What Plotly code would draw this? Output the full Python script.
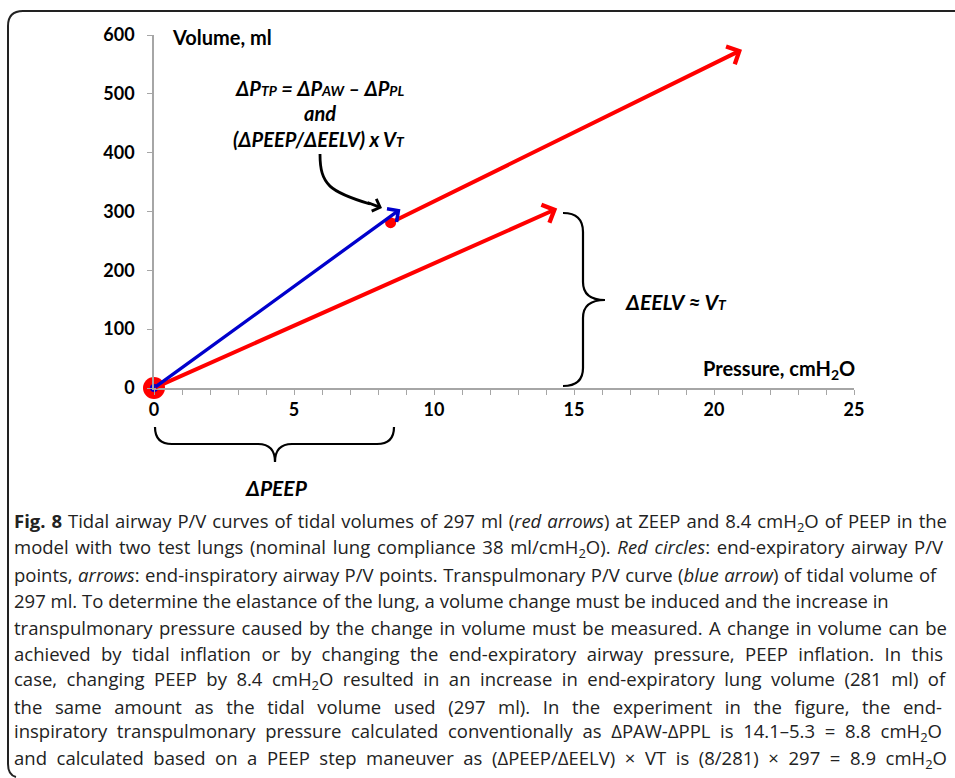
import json
import plotly.graph_objects as go

W, H = 955, 778

# ---- data ----
x_ticks = [0, 5, 10, 15, 20, 25]
y_ticks = [0, 100, 200, 300, 400, 500, 600]

# tidal airway P/V at ZEEP (red arrow 1)
zeep_pressure = [0.0, 14.4]
zeep_volume = [0, 305]
# tidal airway P/V at PEEP 8.4 (red arrow 2)
peep_pressure = [8.45, 21.0]
peep_volume = [281, 575]
# transpulmonary P/V (blue arrow)
tp_pressure = [0.0, 8.8]
tp_volume = [0, 304]
# end-expiratory airway P/V points (red circles)
ee_pressure = [0.0, 8.45]
ee_volume = [0, 281]

caption_lines = [
    "<b>Fig. 8</b> Tidal airway P/V curves of tidal volumes of 297 ml (<i>red arrows</i>) at ZEEP and 8.4 cmH<sub>2</sub>O of PEEP in the",
    "model with two test lungs (nominal lung compliance 38 ml/cmH<sub>2</sub>O). <i>Red circles</i>: end-expiratory airway P/V",
    "points, <i>arrows</i>: end-inspiratory airway P/V points. Transpulmonary P/V curve (<i>blue arrow</i>) of tidal volume of",
    "297 ml. To determine the elastance of the lung, a volume change must be induced and the increase in",
    "transpulmonary pressure caused by the change in volume must be measured. A change in volume can be",
    "achieved by tidal inflation or by changing the end-expiratory airway pressure, PEEP inflation. In this",
    "case, changing PEEP by 8.4 cmH<sub>2</sub>O resulted in an increase in end-expiratory lung volume (281 ml) of",
    "the same amount as the tidal volume used (297 ml). In the experiment in the figure, the end-",
    "inspiratory transpulmonary pressure calculated conventionally as ΔPAW-ΔPPL is 14.1–5.3 = 8.8 cmH<sub>2</sub>O",
    "and calculated based on a PEEP step maneuver as (ΔPEEP/ΔEELV) × VT is (8/281) × 297 = 8.9 cmH<sub>2</sub>O",
]
# right edge (px) of each justified caption line (None = ragged)
caption_right = [945, 942, 936, None, 945, 941, 945, 940, 940, 945]


def P(xp, yp):
    return xp / W, 1 - yp / H


def path(cmds):
    out = []
    for c in cmds:
        if isinstance(c, str):
            out.append(c)
        else:
            x, y = P(*c)
            out.append(f"{x:.5f},{y:.5f}")
    return " ".join(out)


CHART_FONT = "Lato"
AX = "#a6a6a6"

fig = go.Figure()

# red circles (end-expiratory points)
fig.add_trace(go.Scatter(x=ee_pressure[:1], y=ee_volume[:1], mode="markers",
                         marker=dict(size=22, color="#ff0000"), cliponaxis=False,
                         hoverinfo="skip", showlegend=False))
fig.add_trace(go.Scatter(x=ee_pressure[1:], y=ee_volume[1:], mode="markers",
                         marker=dict(size=11, color="#ff0000"), cliponaxis=False,
                         hoverinfo="skip", showlegend=False))

annotations = []


def data_arrow(xs, ys, color, width):
    annotations.append(dict(x=xs[1], y=ys[1], ax=xs[0], ay=ys[0], xref="x", yref="y",
                            axref="x", ayref="y", text="", showarrow=True,
                            arrowhead=4, arrowsize=0.95, arrowwidth=width,
                            arrowcolor=color, standoff=0, startstandoff=0))


data_arrow(zeep_pressure, zeep_volume, "#ff0000", 4)
data_arrow(peep_pressure, peep_volume, "#ff0000", 4)
data_arrow(tp_pressure, tp_volume, "#0000cc", 3.3)

# blue dot at origin (on top)
fig.add_trace(go.Scatter(x=tp_pressure[:1], y=tp_volume[:1], mode="markers",
                         marker=dict(size=8, color="#0000cc"), cliponaxis=False,
                         hoverinfo="skip", showlegend=False))


# ---- text annotations ----
def text(xp, yp, s, size, xanchor="center", bold=True, italic=False, color="#000000", family=CHART_FONT):
    x, y = P(xp, yp)
    annotations.append(dict(x=x, y=y, xref="paper", yref="paper", text=s, showarrow=False,
                            xanchor=xanchor, yanchor="middle", align=xanchor if xanchor != "center" else "center",
                            font=dict(family=family, size=size, color=color,
                                      weight="bold" if bold else "normal",
                                      style="italic" if italic else "normal")))
    return len(annotations) - 1


sm = '<span style="font-size:14px">'
text(170, 37, "Volume, ml", 20, xanchor="left")
text(857, 369, "Pressure, cmH<sub>2</sub>O", 20, xanchor="right")
text(319, 88, f"ΔP{sm}TP</span> = ΔP{sm}AW</span> – ΔP{sm}PL</span>", 20, italic=True)
text(320, 113, "and", 20, italic=True)
text(319, 139, f"(ΔPEEP/ΔEELV) x V{sm}T</span>", 20, italic=True)
text(276, 487, "ΔPEEP", 21, italic=True)
text(623, 301, f"ΔEELV ≈ V{sm}T</span>", 21, xanchor="left", italic=True)

# caption
justify = {}
for i, line in enumerate(caption_lines):
    idx = text(12, 522 + i * 26.3, line, 18.5, xanchor="left", bold=False,
               color="#222222", family="Open Sans")
    if caption_right[i] is not None:
        justify[idx] = caption_right[i] - 12

# curved arrow pointer head
hx, hy = P(382, 208)
annotations.append(dict(x=hx, y=hy, xref="paper", yref="paper", ax=-16, ay=-6, text="",
                        showarrow=True, arrowhead=4, arrowsize=0.9, arrowwidth=2.8,
                        arrowcolor="#000000", standoff=0))

shapes = [
    # frame (kept inside the page)
    dict(type="path", xref="paper", yref="paper",
         path=path(["M", (16, 777), "Q", (8, 775), (8, 764), "L", (8, 26),
                    "Q", (8, 11), (23, 11), "L", (955, 11)]),
         line=dict(color="#222222", width=2)),
    # curved pointer
    dict(type="path", xref="paper", yref="paper",
         path=path(["M", (320, 154), "C", (320, 185), (330, 192), (370, 204)]),
         line=dict(color="#000000", width=2.8)),
    # horizontal brace (ΔPEEP)
    dict(type="path", xref="paper", yref="paper",
         path=path(["M", (155, 427), "Q", (155, 444), (172, 444), "L", (258, 444),
                    "Q", (275, 444), (275, 462), "Q", (275, 444), (292, 444), "L", (377, 444),
                    "Q", (394, 444), (394, 427)]),
         line=dict(color="#000000", width=2.2)),
    # vertical brace (ΔEELV)
    dict(type="path", xref="paper", yref="paper",
         path=path(["M", (563, 213), "Q", (583, 213), (583, 232), "L", (583, 282),
                    "Q", (583, 300), (605, 300), "Q", (583, 300), (583, 318), "L", (583, 368),
                    "Q", (583, 386), (563, 386)]),
         line=dict(color="#000000", width=2.2)),
]

x0, y0 = P(154, 388)
x1, y1 = P(854, 35)

fig.update_layout(
    width=W, height=H, margin=dict(l=0, r=0, t=0, b=0, autoexpand=False),
    paper_bgcolor="white", plot_bgcolor="white",
    showlegend=False,
    annotations=annotations, shapes=shapes,
    xaxis=dict(domain=[x0, x1], range=[0, 25], tickvals=x_ticks, automargin=False,
               showline=True, linecolor=AX, linewidth=1.5, showgrid=False, zeroline=False,
               ticks="outside", ticklen=5, tickcolor=AX, tickwidth=1.2,
               minor=dict(dtick=1, ticks="outside", ticklen=5, tickcolor=AX, tickwidth=1.2, showgrid=False),
               tickfont=dict(family=CHART_FONT, size=18, color="#000000", weight="bold"),
               fixedrange=True),
    yaxis=dict(domain=[y0, y1], range=[0, 600], tickvals=y_ticks, automargin=False,
               showline=True, linecolor=AX, linewidth=1.5, showgrid=False, zeroline=False,
               ticks="outside", ticklen=5, tickcolor=AX, tickwidth=1.2, ticklabelstandoff=9,
               tickfont=dict(family=CHART_FONT, size=18, color="#000000", weight="bold"),
               fixedrange=True),
)

post = """
document.documentElement.style.margin='0';document.documentElement.style.overflow='hidden';
document.body.style.margin='0';document.body.style.overflow='hidden';
(function(){
  var J = %s;
  function run(){
    try {
      document.querySelectorAll('g.annotation').forEach(function(g){
        var i = g.getAttribute('data-index');
        if (!(i in J)) return;
        var t = g.querySelector('text.annotation-text');
        if (!t) return;
        var w = t.getBBox().width;
        var n = (t.textContent.match(/ /g) || []).length;
        if (n > 0 && J[i] > w) t.style.wordSpacing = ((J[i] - w) / n) + 'px';
      });
    } catch (e) {}
  }
  if (document.fonts && document.fonts.ready) { document.fonts.ready.then(run); } else { run(); }
})();
""" % json.dumps({str(k): v for k, v in justify.items()})

fig.write_html("out.html", config={"displayModeBar": False}, post_script=post)
